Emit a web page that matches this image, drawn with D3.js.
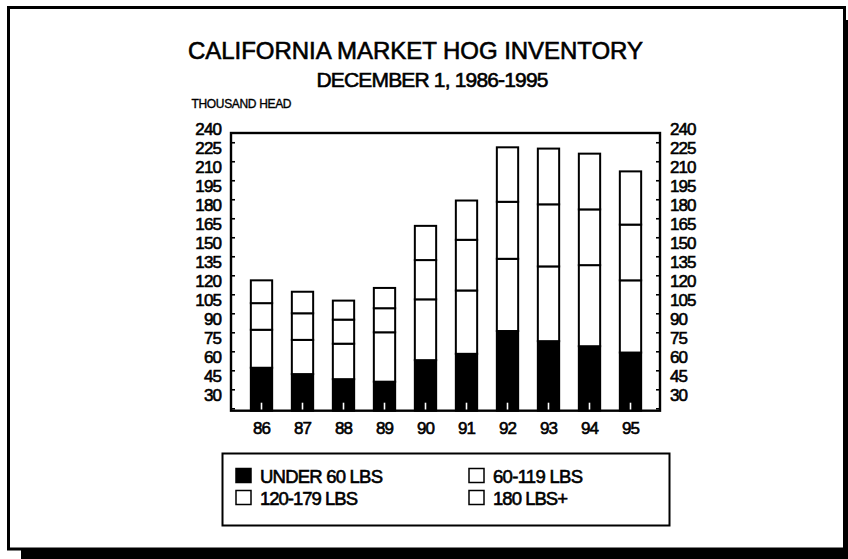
<!DOCTYPE html>
<html>
<head>
<meta charset="utf-8">
<script src="https://cdn.jsdelivr.net/npm/d3@7"></script>
<style>
  body { margin: 0; background: #fff; }
  svg { display: block; font-family: "Liberation Sans", Arial, sans-serif; }
  svg text { fill: #000; stroke: #000; stroke-width: 0.6px; }
  .axis path { display: none; }
  .tick-marks line { stroke: #000; stroke-width: 1.6; }
  .x-axis line { stroke: #fff; stroke-width: 1.6; }
  .label-axis text, .x-axis text { font-size: 17px; letter-spacing: -0.9px; }
  .legend text { font-size: 18.5px; }
</style>
</head>
<body>
<div class="app"></div>
<script>
'use strict'

// Годы (категории по оси X)
var years = ["86", "87", "88", "89", "90", "91", "92", "93", "94", "95"];

// Значения по весовым группам, тыс. голов
var under60 = [47, 42, 38, 36, 53, 58, 76, 68, 64, 59];
var lbs60to119 = [30, 27, 28, 39, 48, 50, 57, 59, 64, 57];
var lbs120to179 = [21, 21, 19, 19, 31, 40, 45, 49, 44, 44];
var lbs180plus = [18, 17, 15, 16, 27, 31, 43, 44, 44, 42];

var seriesNames = ["UNDER 60 LBS", "60-119 LBS", "120-179 LBS", "180 LBS+"];

// Деления и подписи оси Y
var tickMarkValues = [15, 30, 45, 60, 75, 90, 105, 120, 135, 150, 165, 180, 195, 210, 225];
var tickLabelValues = [30, 45, 60, 75, 90, 105, 120, 135, 150, 165, 180, 195, 210, 225, 240];

var keys = ["under60", "lbs60to119", "lbs120to179", "lbs180plus"];

var rows = years.map((year, i) => {
  return {
    year: year,
    under60: under60[i],
    lbs60to119: lbs60to119[i],
    lbs120to179: lbs120to179[i],
    lbs180plus: lbs180plus[i]
  };
});

var stacked = d3.stack().keys(keys)(rows);

// Область графика
var plot = { left: 231, right: 660, top: 133, bottom: 410.7 };

var xScale = d3.scaleBand()
  .domain(years)
  .range([241, 651])
  .paddingInner(0.48)
  .paddingOuter(0.24);

var yScale = d3.scaleLinear()
  .domain([13.1, 232.3])
  .range([plot.bottom, plot.top]);

// Низ столбика не ниже оси
function yBase(v) {
  return yScale(Math.max(v, yScale.domain()[0]));
}

var svg = d3.select(".app")
  .append("svg")
  .attr("width", 848)
  .attr("height", 559);

// Рамка с тенью
svg.append("rect")
  .attr("x", 21).attr("y", 20)
  .attr("width", 827).attr("height", 539)
  .attr("fill", "#000");

svg.append("rect")
  .attr("x", 8.5).attr("y", 7.5)
  .attr("width", 836).attr("height", 541.5)
  .attr("fill", "#fff")
  .attr("stroke", "#000")
  .attr("stroke-width", 3);

// Заголовки
svg.append("text")
  .attr("x", 415.5).attr("y", 58.5)
  .attr("text-anchor", "middle")
  .attr("font-size", 24)
  .attr("textLength", 455)
  .attr("lengthAdjust", "spacing")
  .text("CALIFORNIA MARKET HOG INVENTORY");

svg.append("text")
  .attr("x", 432.5).attr("y", 87)
  .attr("text-anchor", "middle")
  .attr("font-size", 21)
  .attr("textLength", 232)
  .attr("lengthAdjust", "spacing")
  .text("DECEMBER 1, 1986-1995");

svg.append("text")
  .attr("x", 191.5).attr("y", 107.5)
  .attr("font-size", 12)
  .attr("textLength", 100)
  .attr("lengthAdjust", "spacing")
  .style("stroke-width", "0.35px")
  .text("THOUSAND HEAD");

// Столбики
var layers = svg.append("g")
  .selectAll("g")
  .data(stacked)
  .join("g")
  .attr("fill", (d, i) => i === 0 ? "#000" : "#fff");

layers.selectAll("rect")
  .data(d => d)
  .join("rect")
  .attr("x", d => xScale(d.data.year))
  .attr("y", d => yScale(d[1]))
  .attr("width", xScale.bandwidth())
  .attr("height", d => yBase(d[0]) - yScale(d[1]))
  .attr("stroke", "#000")
  .attr("stroke-width", 2);

// Ось X: белые риски внутри столбиков и подписи
svg.append("g")
  .attr("class", "axis x-axis")
  .attr("transform", "translate(0," + plot.bottom + ")")
  .call(d3.axisBottom(xScale).tickSizeInner(-8).tickSizeOuter(0).tickPadding(14));

svg.selectAll(".x-axis text").attr("dy", "0.71em").attr("y", 11);

// Риски оси Y слева и справа
svg.append("g")
  .attr("class", "axis tick-marks")
  .attr("transform", "translate(" + plot.left + ",0)")
  .call(d3.axisLeft(yScale).tickValues(tickMarkValues).tickSizeInner(-4).tickSizeOuter(0).tickFormat(""));

svg.append("g")
  .attr("class", "axis tick-marks")
  .attr("transform", "translate(" + plot.right + ",0)")
  .call(d3.axisRight(yScale).tickValues(tickMarkValues).tickSizeInner(-4).tickSizeOuter(0).tickFormat(""));

// Подписи оси Y (чуть ниже рисок, как в оригинале)
svg.append("g")
  .attr("class", "axis label-axis")
  .attr("transform", "translate(" + plot.left + ",5.5)")
  .call(d3.axisLeft(yScale).tickValues(tickLabelValues).tickSize(0).tickPadding(10));

svg.append("g")
  .attr("class", "axis label-axis")
  .attr("transform", "translate(" + plot.right + ",5.5)")
  .call(d3.axisRight(yScale).tickValues(tickLabelValues).tickSize(0).tickPadding(10));

svg.selectAll(".axis text").attr("font-family", null).attr("font-size", null);

// Рамка области графика
svg.append("rect")
  .attr("x", plot.left).attr("y", plot.top)
  .attr("width", plot.right - plot.left)
  .attr("height", plot.bottom - plot.top)
  .attr("fill", "none")
  .attr("stroke", "#000")
  .attr("stroke-width", 2.4);

// Легенда
var legend = svg.append("g").attr("class", "legend");

legend.append("rect")
  .attr("x", 222.5).attr("y", 453.5)
  .attr("width", 447).attr("height", 72)
  .attr("fill", "#fff")
  .attr("stroke", "#000")
  .attr("stroke-width", 2);

var legendPos = [[235, 468], [468, 468], [235, 490], [468, 490]];
var legendWidths = [123, 90, 98, 75];

var items = legend.selectAll("g.item")
  .data(seriesNames)
  .join("g")
  .attr("class", "item")
  .attr("transform", (d, i) => "translate(" + legendPos[i][0] + "," + legendPos[i][1] + ")");

items.append("rect")
  .attr("x", 1).attr("y", 0.5)
  .attr("width", 15).attr("height", 14)
  .attr("fill", (d, i) => i === 0 ? "#000" : "#fff")
  .attr("stroke", "#000")
  .attr("stroke-width", 1.5);

items.append("text")
  .attr("x", 25).attr("y", 15)
  .attr("textLength", (d, i) => legendWidths[i])
  .attr("lengthAdjust", "spacing")
  .text(d => d);
</script>
</body>
</html>
